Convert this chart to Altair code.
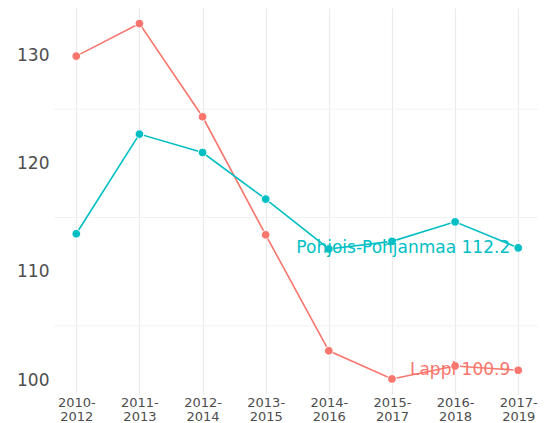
import altair as alt
import pandas as pd

periods = ["2010-2012", "2011-2013", "2012-2014", "2013-2015",
           "2014-2016", "2015-2017", "2016-2018", "2017-2019"]
lappi = [129.9, 132.9, 124.3, 113.4, 102.7, 100.1, 101.3, 100.9]
pohjois = [113.5, 122.7, 121.0, 116.7, 112.1, 112.8, 114.6, 112.2]
regions = ["Lappi", "Pohjois-Pohjanmaa"]
colors = ["#F8766D", "#00BFC4"]
y_ticks = [100, 110, 120, 130]
minor_grid = [105, 115, 125]

rows = []
for p, v in zip(periods, lappi):
    rows.append({"period": p, "value": v, "region": "Lappi"})
for p, v in zip(periods, pohjois):
    rows.append({"period": p, "value": v, "region": "Pohjois-Pohjanmaa"})
df = pd.DataFrame(rows)
grid_df = pd.DataFrame({"g": minor_grid})

x_enc = alt.X("period:N", sort=periods,
              scale=alt.Scale(type="point", padding=0.333, align=0.53),
              axis=alt.Axis(title=None, labelAngle=0, domain=False, ticks=False,
                            grid=True, gridColor="#EBEBEB", gridWidth=1.2,
                            labelFontSize=13, labelColor="#4D4D4D",
                            labelFont="DejaVu Sans", labelPadding=2,
                            labelLineHeight=14,
                            labelExpr="[slice(datum.value,0,5), slice(datum.value,5)]"))
y_scale = alt.Scale(domain=[98.71, 134.34], nice=False, zero=False)
y_axis = alt.Axis(title=None, values=y_ticks, domain=False, ticks=False,
                  grid=False, labelFontSize=17, labelColor="#4D4D4D",
                  labelFont="DejaVu Sans", labelPadding=5)
y_enc = alt.Y("value:Q", scale=y_scale, axis=y_axis)
color_enc = alt.Color("region:N", scale=alt.Scale(domain=regions, range=colors),
                      legend=None)

grid = alt.Chart(grid_df).mark_rule(color="#F2F2F2", strokeWidth=1).encode(
    y=alt.Y("g:Q", scale=y_scale, axis=y_axis)
)

base = alt.Chart(df)
lines = base.mark_line(strokeWidth=1.6).encode(x=x_enc, y=y_enc, color=color_enc)
points = base.mark_point(filled=True, size=75, stroke="white", strokeWidth=1,
                         opacity=1).encode(x=x_enc, y=y_enc, fill=alt.Fill(
                             "region:N", scale=alt.Scale(domain=regions, range=colors),
                             legend=None))
labels = base.transform_filter(
    alt.datum.period == periods[-1]
).transform_calculate(
    label="datum.region + ' ' + format(datum.value, '.1f')"
).mark_text(align="right", baseline="middle", dx=-8, fontSize=17,
            font="DejaVu Sans").encode(
    x=x_enc, y=y_enc, text="label:N", color=color_enc
)

chart = alt.layer(grid, lines, points, labels).properties(
    width=484, height=386,
    background="white",
    autosize=alt.AutoSizeParams(type="none"),
    padding={"left": 46, "top": 0, "right": 0, "bottom": 29},
).configure_view(stroke=None, strokeWidth=0)

chart.save("out.html", embed_options={"renderer": "svg", "actions": False})
